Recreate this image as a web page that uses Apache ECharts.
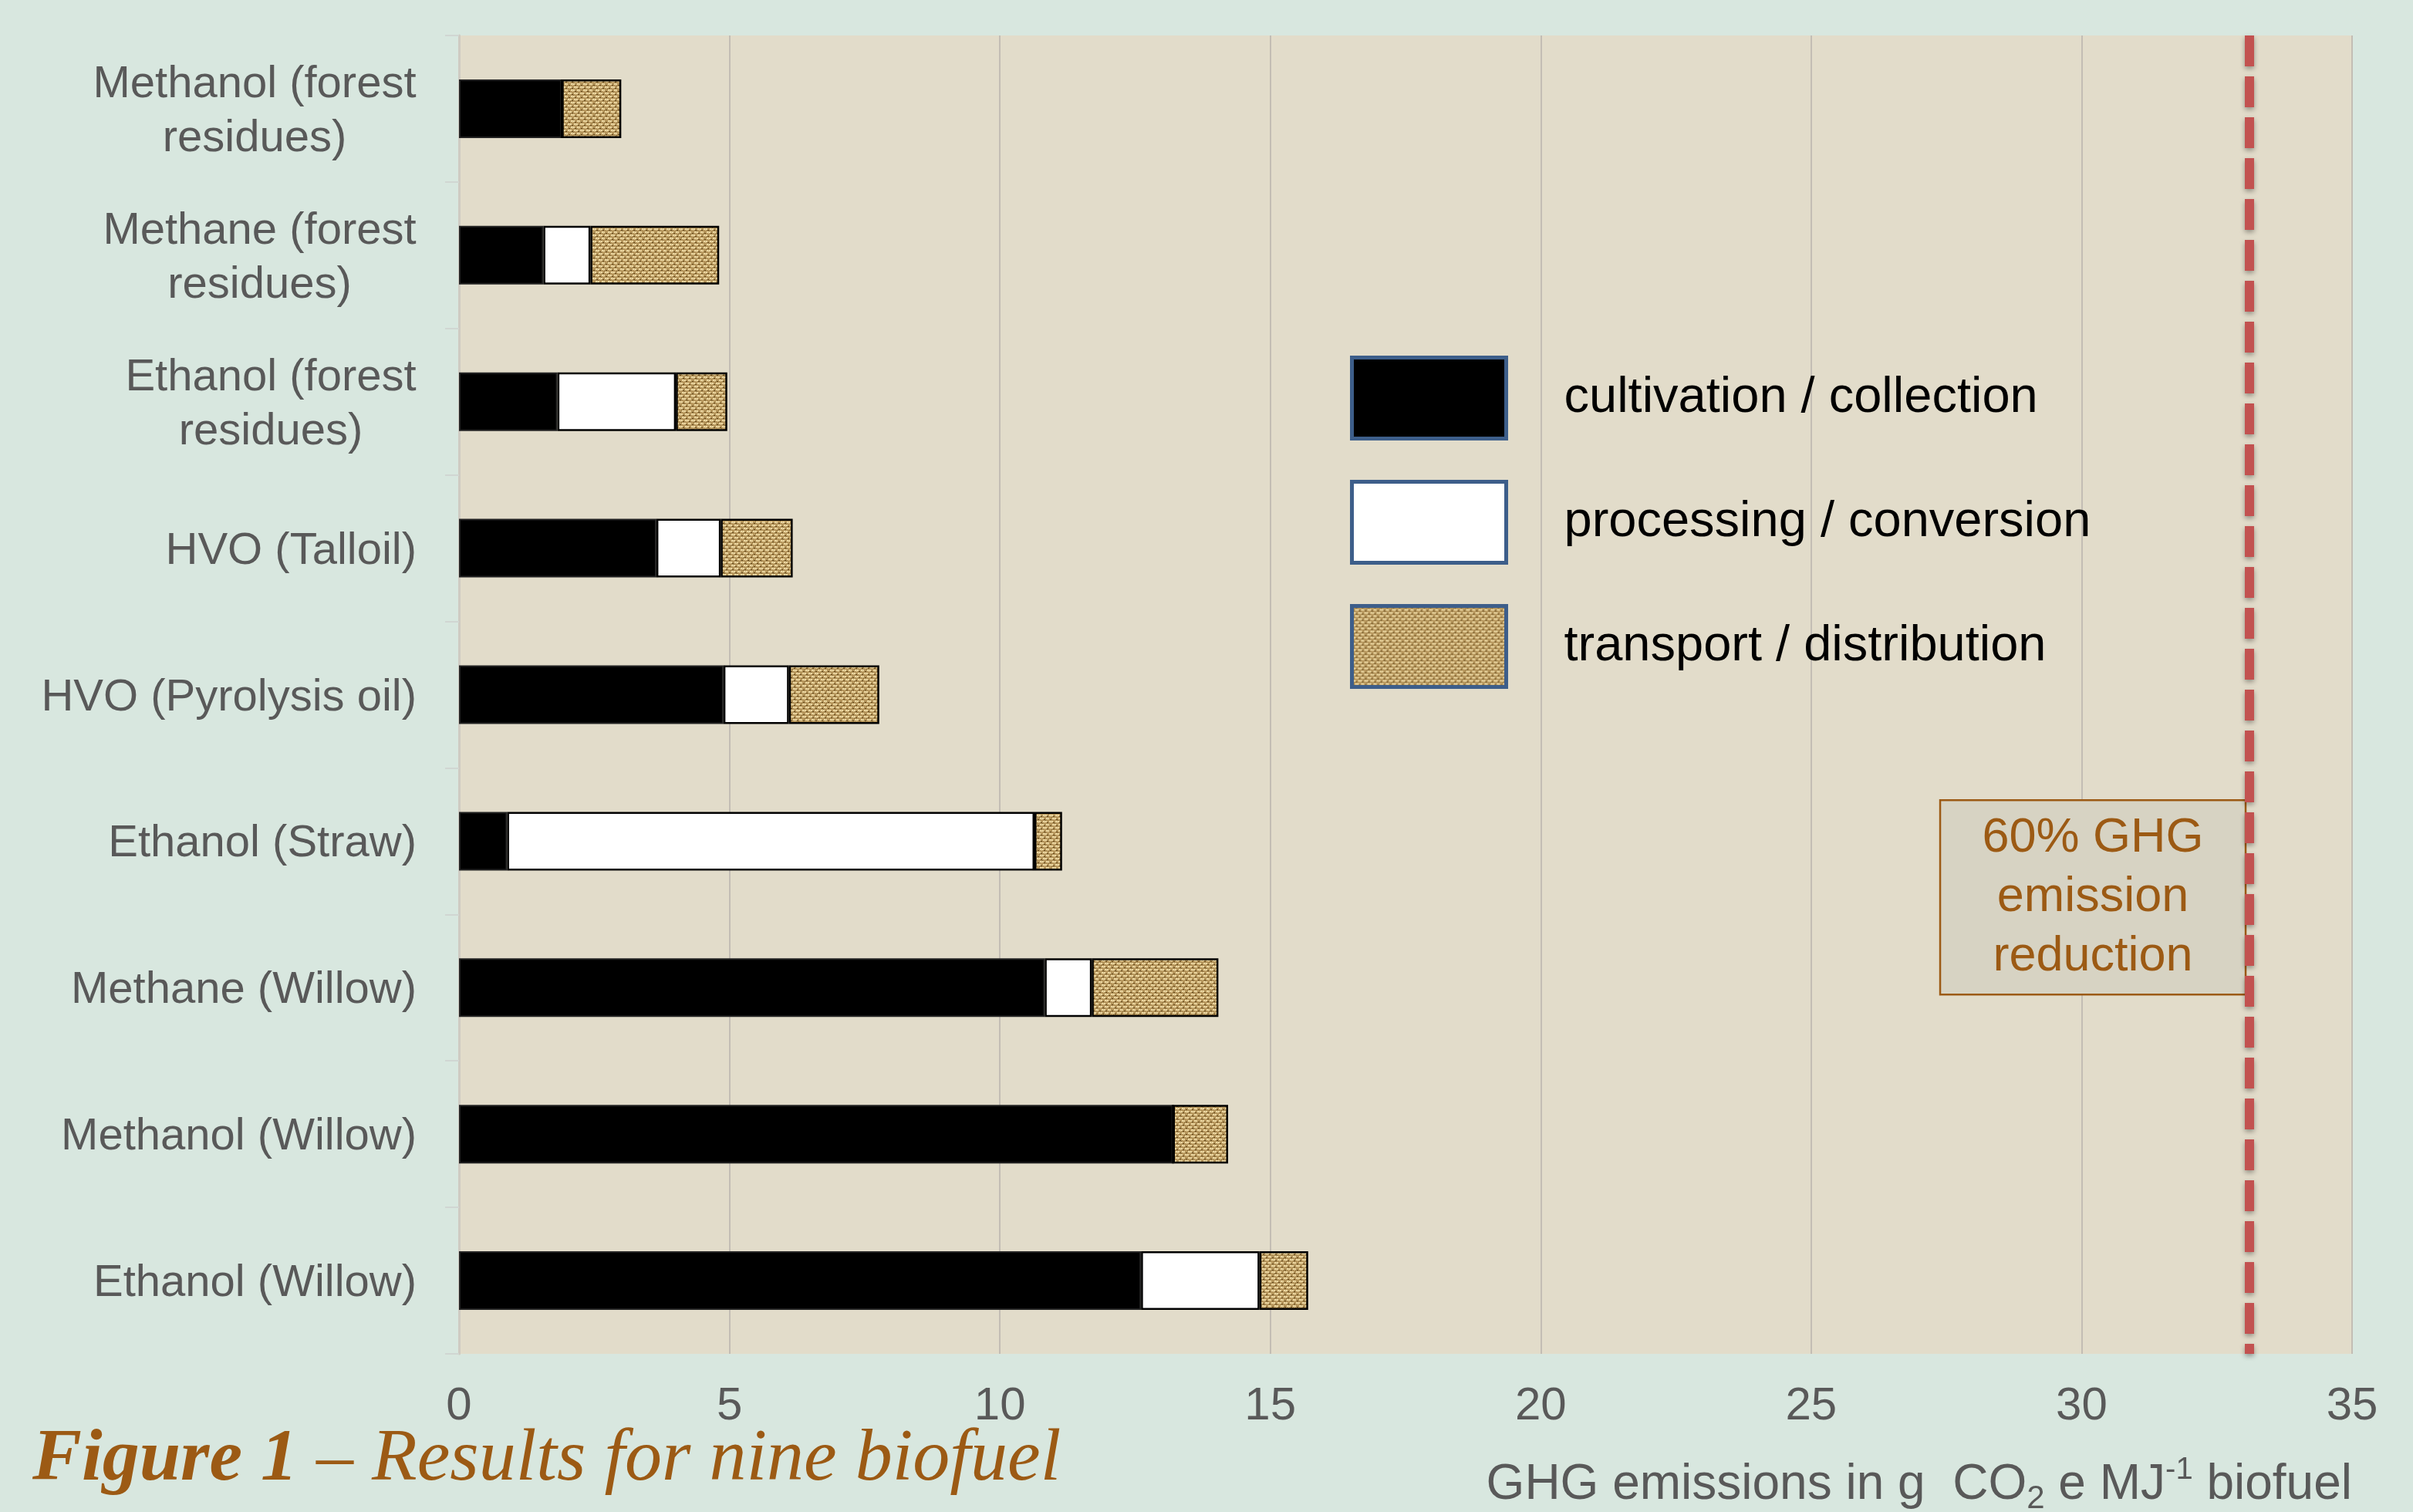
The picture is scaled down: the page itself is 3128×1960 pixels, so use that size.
<!DOCTYPE html>
<html><head><meta charset="utf-8">
<script src="https://cdn.jsdelivr.net/npm/echarts@6/dist/echarts.min.js"></script>
<style>html,body{margin:0;padding:0;background:#D8E7DF;} #c{width:3128px;height:1960px;}</style>
</head><body><div id="c"></div>
<script>
// ---- data ----
const categories = [
  'Methanol (forest\nresidues)',
  'Methane (forest\nresidues)',
  'Ethanol (forest\nresidues)',
  'HVO (Talloil)',
  'HVO (Pyrolysis oil)',
  'Ethanol (Straw)',
  'Methane (Willow)',
  'Methanol (Willow)',
  'Ethanol (Willow)'
];
const cultivation = [1.9, 1.56, 1.82, 3.65, 4.89, 0.89, 10.83, 13.2, 12.61];
const processing  = [0, 0.87, 2.19, 1.19, 1.21, 9.75, 0.87, 0, 2.19];
const transport   = [1.1, 2.38, 0.95, 1.33, 1.67, 0.51, 2.34, 1.02, 0.9];
const seriesNames = ['cultivation / collection', 'processing / conversion', 'transport / distribution'];
const xMin = 0, xMax = 35, xInterval = 5;
const thresholdValue = 33.1;
const thresholdLabel = '60% GHG\nemission\nreduction';
const titleBold = 'Figure 1';
const titleRest = ' – Results for nine biofuel';

// ---- styles ----
const FONT = '"Liberation Sans", Arial, sans-serif';
const SERIF = '"Liberation Serif", "Times New Roman", serif';
const GREY = '#595959';
const BROWN = '#9C5A14';

// burlap-like woven texture (deterministic)
function makeBurlap() {
  const c = document.createElement('canvas');
  c.width = 16; c.height = 16;
  const g = c.getContext('2d');
  g.fillStyle = '#B4945A'; g.fillRect(0, 0, 16, 16);
  g.fillStyle = '#EBD7A2';
  for (let r = 0; r < 4; r++) {
    const y = r * 4;
    const off = (r % 2) ? 4 : 0;
    for (let x = 0; x < 16; x += 8) { g.fillRect((x + off) % 16, y, 5, 2); }
  }
  g.fillStyle = '#DCC38C';
  for (let r = 0; r < 4; r++) {
    const y = r * 4;
    const off = (r % 2) ? 0 : 4;
    for (let x = 0; x < 16; x += 8) { g.fillRect((x + off + 6) % 16, y, 1, 3); }
  }
  g.fillStyle = '#5E4419';
  for (let r = 0; r < 4; r++) {
    const y = r * 4 + 2;
    const off = (r % 2) ? 1 : 5;
    for (let x = 0; x < 16; x += 8) { g.fillRect((x + off) % 16, y, 2, 1); }
  }
  g.fillStyle = '#7E6230';
  g.fillRect(3, 3, 1, 1); g.fillRect(11, 7, 1, 1); g.fillRect(7, 11, 1, 1); g.fillRect(15, 15, 1, 1);
  return c;
}
const burlap = makeBurlap();

// measure label lines so the 2nd line of a wrapped label is centred under the 1st
const mc = document.createElement('canvas').getContext('2d');
mc.font = '58px ' + FONT;
const rich = {};
categories.forEach((cat, i) => {
  const lines = cat.split('\n');
  const w = Math.max(...lines.map(l => mc.measureText(l).width));
  rich['r' + i] = { width: Math.ceil(w), align: 'center', fontSize: 58, lineHeight: 70, color: GREY, fontFamily: FONT };
});

const chart = echarts.init(document.getElementById('c'), null, { renderer: 'canvas' });
const barCommon = { type: 'bar', stack: 'total', barWidth: 76, silent: true };

chart.setOption({
  backgroundColor: '#D8E7DF',
  animation: false,
  textStyle: { fontFamily: FONT },
  title: [
    {
      text: '{b|' + titleBold + '}{i|' + titleRest + '}',
      left: 42, top: 1838, padding: 0,
      textStyle: {
        rich: {
          b: { fontFamily: SERIF, fontStyle: 'italic', fontWeight: 'bold', fontSize: 96, color: BROWN, lineHeight: 110 },
          i: { fontFamily: SERIF, fontStyle: 'italic', fontWeight: 'normal', fontSize: 96, color: BROWN, lineHeight: 110 }
        }
      }
    },
    {
      text: '{n|GHG emissions in g  CO}{sub|2}{n| e MJ}{sup|-1}{n| biofuel}',
      right: 79, top: 1886, padding: 0,
      textStyle: {
        fontWeight: 'normal',
        rich: {
          n: { fontFamily: FONT, fontSize: 64, fontWeight: 'normal', color: GREY, lineHeight: 78 },
          sub: { fontFamily: FONT, fontSize: 42, fontWeight: 'normal', color: GREY, lineHeight: 42, verticalAlign: 'bottom' },
          sup: { fontFamily: FONT, fontSize: 40, fontWeight: 'normal', color: GREY, lineHeight: 40, verticalAlign: 'top' }
        }
      }
    }
  ],
  legend: {
    orient: 'vertical',
    left: 1745, top: 456,
    itemWidth: 200, itemHeight: 105, itemGap: 51,
    icon: 'rect',
    selectedMode: false,
    data: seriesNames,
    itemStyle: { borderColor: '#3D5E8A', borderWidth: 5 },
    textStyle: { fontSize: 65, color: '#000', fontFamily: FONT, padding: [0, 0, 0, 70] }
  },
  grid: {
    left: 595, right: 79, top: 46, bottom: 205,
    show: true, backgroundColor: '#E2DCCA', borderWidth: 0
  },
  xAxis: {
    type: 'value', min: xMin, max: xMax, interval: xInterval,
    axisLine: { show: false }, axisTick: { show: false },
    splitLine: { show: true, lineStyle: { color: '#C3BDB4', width: 2 } },
    axisLabel: { fontSize: 60, color: GREY, margin: 38, fontFamily: FONT }
  },
  yAxis: {
    type: 'category', data: categories, inverse: true,
    axisLine: { show: true, lineStyle: { color: '#CFCBC2', width: 3 } },
    axisTick: { show: true, length: 18, lineStyle: { color: '#D0D6D2', width: 2 } },
    axisLabel: {
      margin: 55, fontSize: 58, lineHeight: 70, color: GREY, fontFamily: FONT, align: 'right',
      padding: [8, 0, 0, 0],
      formatter: (v, i) => {
        const lines = v.split('\n');
        if (lines.length === 1) return v;
        return lines.map(l => '{r' + i + '|' + l + '}').join('\n');
      },
      rich: rich
    }
  },
  series: [
    Object.assign({}, barCommon, {
      name: seriesNames[0], data: cultivation,
      itemStyle: { color: '#000', borderColor: '#222', borderWidth: 2 },
      markLine: {
        silent: true, symbol: ['none', 'none'], label: { show: false },
        lineStyle: { color: '#C25250', width: 12, type: [40, 13], shadowColor: 'rgba(0,0,0,0.35)', shadowBlur: 6, shadowOffsetY: 3 },
        data: [{ xAxis: thresholdValue }]
      }
    }),
    Object.assign({}, barCommon, {
      name: seriesNames[1], data: processing,
      itemStyle: { color: '#fff', borderColor: '#000', borderWidth: 2.5 }
    }),
    Object.assign({}, barCommon, {
      name: seriesNames[2], data: transport,
      itemStyle: { color: { image: burlap, repeat: 'repeat' }, borderColor: '#000', borderWidth: 2.5 }
    })
  ]
});

// annotation box anchored to the threshold line
const lineX = chart.convertToPixel({ xAxisIndex: 0 }, thresholdValue);
const boxW = 396, boxH = 252, boxTop = 1036;
chart.setOption({
  graphic: [{
    type: 'group', left: lineX - 6 - boxW, top: boxTop,
    children: [
      { type: 'rect', shape: { x: 0, y: 0, width: boxW, height: boxH }, style: { fill: '#D7D3C3', stroke: BROWN, lineWidth: 2.5 } },
      { type: 'text', x: boxW / 2, y: boxH / 2, style: { text: thresholdLabel, fill: BROWN, font: '63px ' + FONT, lineHeight: 77, align: 'center', verticalAlign: 'middle' } }
    ]
  }]
});
</script>
</body></html>
